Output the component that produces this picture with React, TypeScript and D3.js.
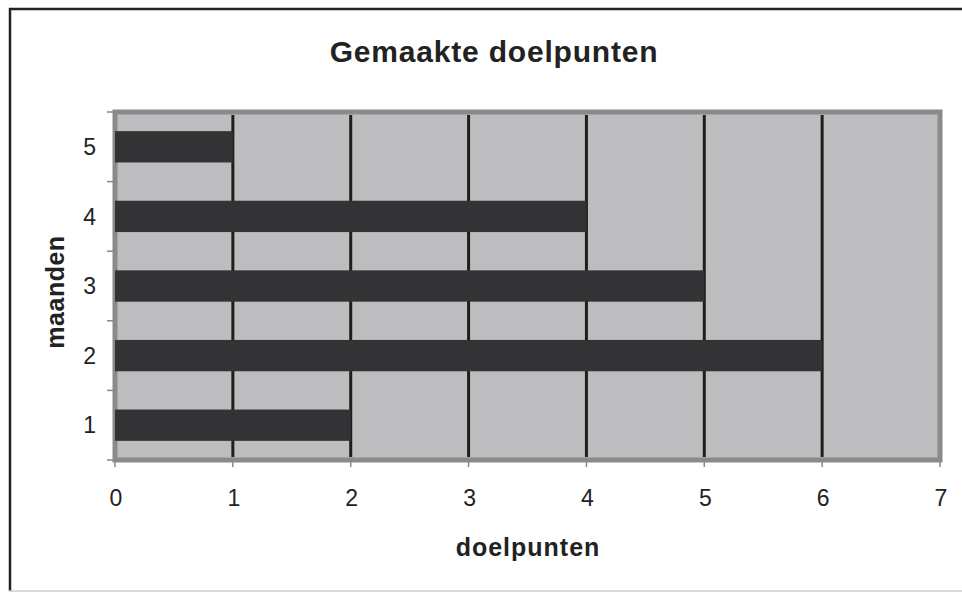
import React, { useEffect, useRef } from 'react';
import * as d3 from 'd3';

const months = ['1', '2', '3', '4', '5'];
const goals = [2, 6, 5, 4, 1];
const xTicks = [0, 1, 2, 3, 4, 5, 6, 7];

const App = () => {
  const svgRef = useRef<SVGSVGElement>(null);

  useEffect(() => {
    const width = 962;
    const height = 592;
    const left = 115;
    const right = 940;
    const top = 112;
    const bottom = 460;

    const svg = d3.select(svgRef.current);
    svg.selectAll('*').remove();

    const font = 'Liberation Sans, Arial, sans-serif';

    // outer frame
    svg.append('rect').attr('width', width).attr('height', height).attr('fill', '#fff');
    svg.append('line').attr('x1', 10).attr('x2', 10).attr('y1', 8).attr('y2', 591)
      .attr('stroke', '#222').attr('stroke-width', 2.5);
    svg.append('line').attr('x1', 9).attr('x2', width).attr('y1', 9).attr('y2', 9)
      .attr('stroke', '#222').attr('stroke-width', 2.5);
    svg.append('line').attr('x1', 9).attr('x2', width).attr('y1', 591).attr('y2', 591)
      .attr('stroke', '#ccc').attr('stroke-width', 1.5);

    const x = d3.scaleLinear().domain([0, 7]).range([left, right]);
    const y = d3.scaleBand().domain(months).range([bottom, top]).paddingInner(0.55).paddingOuter(0.275);
    const yEdges = d3.scaleLinear().domain([0, 5]).range([bottom, top]);

    // plot area
    svg.append('rect')
      .attr('x', left).attr('y', top)
      .attr('width', right - left).attr('height', bottom - top)
      .attr('fill', '#bdbdbf').attr('stroke', '#8a8a8c').attr('stroke-width', 5);

    // vertical gridlines
    svg.append('g').selectAll('line')
      .data(xTicks.slice(1, -1))
      .join('line')
      .attr('x1', d => x(d)).attr('x2', d => x(d))
      .attr('y1', top + 3).attr('y2', bottom - 3)
      .attr('stroke', '#1e1e1e').attr('stroke-width', 3);

    // bars
    svg.append('g').selectAll('rect')
      .data(months.map((m, i) => ({ m, v: goals[i] })))
      .join('rect')
      .attr('x', x(0))
      .attr('y', d => y(d.m)!)
      .attr('width', d => x(d.v) - x(0))
      .attr('height', y.bandwidth())
      .attr('fill', '#333335');

    // y ticks
    svg.append('g').selectAll('line')
      .data(d3.range(0, 6))
      .join('line')
      .attr('x1', left - 8).attr('x2', left)
      .attr('y1', d => yEdges(d)).attr('y2', d => yEdges(d))
      .attr('stroke', '#888').attr('stroke-width', 1.5);

    svg.append('g').selectAll('text')
      .data(months)
      .join('text')
      .attr('x', 96)
      .attr('y', d => y(d)! + y.bandwidth() / 2)
      .attr('dy', '0.36em')
      .attr('text-anchor', 'end')
      .attr('font-family', font).attr('font-size', 23).attr('fill', '#222')
      .text(d => d);

    // x ticks
    svg.append('g').selectAll('line')
      .data(xTicks)
      .join('line')
      .attr('x1', d => x(d)).attr('x2', d => x(d))
      .attr('y1', bottom).attr('y2', bottom + 7)
      .attr('stroke', '#888').attr('stroke-width', 1.5);

    svg.append('g').selectAll('text')
      .data(xTicks)
      .join('text')
      .attr('x', d => x(d) + 1)
      .attr('y', 506)
      .attr('text-anchor', 'middle')
      .attr('font-family', font).attr('font-size', 23).attr('fill', '#222')
      .text(d => d);

    // titles
    svg.append('text')
      .attr('x', 494).attr('y', 62)
      .attr('text-anchor', 'middle')
      .attr('font-family', font).attr('font-size', 30).attr('font-weight', 'bold')
      .attr('letter-spacing', 0.8).attr('fill', '#222')
      .text('Gemaakte doelpunten');

    svg.append('text')
      .attr('x', 528).attr('y', 556)
      .attr('text-anchor', 'middle')
      .attr('font-family', font).attr('font-size', 25).attr('font-weight', 'bold')
      .attr('letter-spacing', 1).attr('fill', '#222')
      .text('doelpunten');

    svg.append('text')
      .attr('transform', 'translate(64,292) rotate(-90)')
      .attr('text-anchor', 'middle')
      .attr('font-family', font).attr('font-size', 25).attr('font-weight', 'bold')
      .attr('letter-spacing', 0.5).attr('fill', '#222')
      .text('maanden');
  }, []);

  return (
    <svg
      ref={svgRef}
      width={962}
      height={592}
      style={{ position: 'absolute', left: 0, top: 0 }}
    />
  );
};

export default App;
